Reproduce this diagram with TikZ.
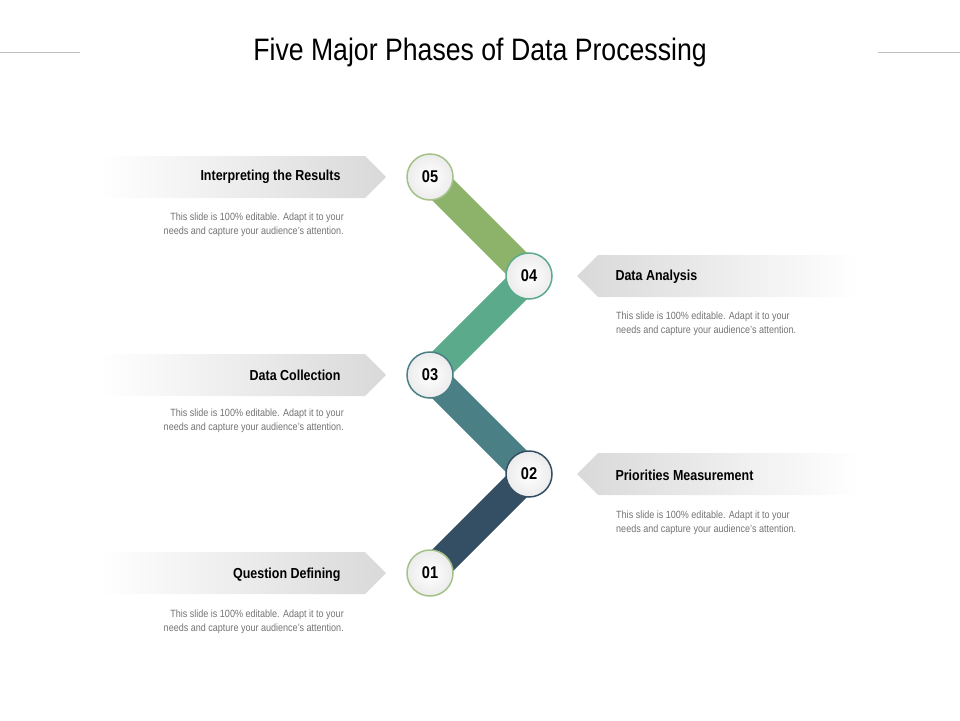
\documentclass[tikz,border=0pt]{standalone}
\usepackage{fontspec}
\setmainfont[FakeStretch=0.86]{Liberation Sans}
\usetikzlibrary{shadows}
\definecolor{cA}{HTML}{344E63}
\definecolor{cB}{HTML}{4A7F86}
\definecolor{cC}{HTML}{5BAA8C}
\definecolor{cD}{HTML}{8DB36A}
\tikzset{x=1pt,y=-1pt,
 num/.style={circle,draw=#1,line width=1.5pt,minimum size=46pt,inner sep=0pt,
   inner color=white,outer color=gray!15,font=\bfseries\fontsize{17}{17}\selectfont},
 bar/.style={line width=30pt,#1},
 lbl/.style={font=\bfseries\fontsize{14.5}{16}\selectfont},
 desc/.style={font=\fontsize{10.5}{13.5}\selectfont,text=gray!90!black,inner sep=0pt}}
\begin{document}
\begin{tikzpicture}
\useasboundingbox (0,0) rectangle (960,720);
\node[font=\fontsize{31}{34}\selectfont] (t) at (480,52) {Five Major Phases of Data Processing};
\coordinate (l1) at (0,52); \coordinate (l2) at (80,52);
\coordinate (r1) at (878,52); \coordinate (r2) at (960,52);
\draw[gray!50] (l1)--(l2); \draw[gray!50] (r1)--(r2);
% banners
\foreach \y in {177,375,573}{
 \shade[left color=white,right color=gray!30] (100,\y-21)--(365,\y-21)--(386,\y)--(365,\y+21)--(100,\y+21)--cycle;}
\foreach \y in {276,474}{
 \shade[left color=gray!30,right color=white] (860,\y-21)--(598,\y-21)--(577,\y)--(598,\y+21)--(860,\y+21)--cycle;}
\node[lbl,anchor=east] (L5) at (344,177) {Interpreting the Results};
\node[lbl,anchor=east] (L3) at (344,375) {Data Collection};
\node[lbl,anchor=east] (L1) at (344,575) {Question Defining};
\node[lbl,anchor=west] (L4) at (612,277) {Data Analysis};
\node[lbl,anchor=west] (L2) at (612,475) {Priorities Measurement};
\foreach \n/\y in {5/225,3/421,1/622}{
 \node[desc,align=right,anchor=east] (D\n) at (344,\y) {This slide is 100\% editable. Adapt it to your\\needs and capture your audience's attention.};}
\foreach \n/\y in {4/324,2/523}{
 \node[desc,align=left,anchor=west] (D\n) at (616,\y) {This slide is 100\% editable. Adapt it to your\\needs and capture your audience's attention.};}
% path
\coordinate (p5) at (430,177); \coordinate (p4) at (529,276);
\coordinate (p3) at (430,375); \coordinate (p2) at (529,474);
\coordinate (p1) at (430,573);
\draw[bar=cD] (p5)--(p4);
\draw[bar=cC] (p4)--(p3);
\draw[bar=cB] (p3)--(p2);
\draw[bar=cA] (p2)--(p1);
\node[num=cD!80] (n5) at (p5) {05};
\node[num=cC] (n4) at (p4) {04};
\node[num=cB] (n3) at (p3) {03};
\node[num=cA] (n2) at (p2) {02};
\node[num=cD!80] (n1) at (p1) {01};
\end{tikzpicture}
\end{document}
